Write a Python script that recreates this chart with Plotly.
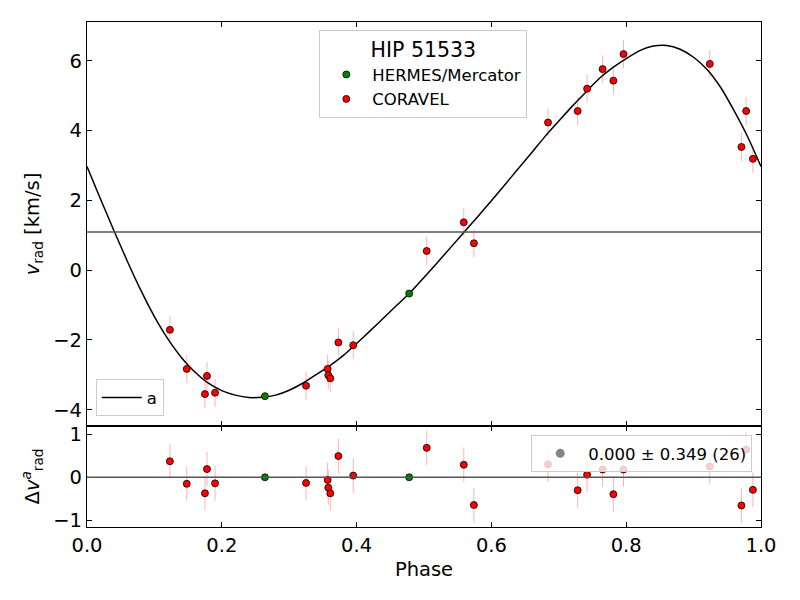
import plotly.graph_objects as go

# ---------------- data ----------------
gamma = 1.09

hermes_phase = [0.264, 0.478]
hermes_rv = [-3.61, -0.67]
hermes_err = [0.02, 0.02]
hermes_res = [0.00, 0.00]

coravel_phase = [0.123, 0.148, 0.175, 0.178, 0.190, 0.325, 0.357, 0.358, 0.361,
                 0.373, 0.395, 0.504, 0.559, 0.574, 0.684, 0.728, 0.742, 0.765,
                 0.781, 0.796, 0.924, 0.971, 0.978, 0.988]
coravel_rv = [-1.71, -2.83, -3.55, -3.03, -3.51, -3.31, -2.83, -3.01, -3.10,
              -2.07, -2.15, 0.55, 1.37, 0.77, 4.23, 4.56, 5.20, 5.76,
              5.43, 6.19, 5.91, 3.53, 4.56, 3.19]
coravel_err = [0.4] * 24
coravel_res = [0.37, -0.15, -0.37, 0.19, -0.14, -0.13, -0.06, -0.24, -0.37,
               0.49, 0.04, 0.68, 0.29, -0.64, 0.30, -0.30, 0.06, 0.18,
               -0.39, 0.18, 0.25, -0.65, 0.64, -0.29]

model_phase = [0.00, 0.02, 0.04, 0.06, 0.08, 0.10, 0.12, 0.14, 0.16, 0.18,
               0.20, 0.22, 0.24, 0.26, 0.28, 0.30, 0.32, 0.34, 0.36, 0.38,
               0.40, 0.42, 0.44, 0.46, 0.48, 0.50, 0.52, 0.54, 0.56, 0.58,
               0.60, 0.62, 0.64, 0.66, 0.68, 0.70, 0.72, 0.74, 0.76, 0.78,
               0.80, 0.82, 0.84, 0.86, 0.88, 0.90, 0.92, 0.94, 0.96, 0.98, 1.00]
model_rv = [2.97, 2.04, 1.13, 0.25, -0.58, -1.33, -1.97, -2.50, -2.92, -3.24,
            -3.45, -3.58, -3.65, -3.64, -3.58, -3.44, -3.24, -2.99, -2.74, -2.45,
            -2.10, -1.74, -1.37, -1.00, -0.63, -0.21, 0.22, 0.66, 1.10, 1.54,
            1.99, 2.45, 2.91, 3.37, 3.84, 4.27, 4.70, 5.10, 5.49, 5.80,
            6.06, 6.29, 6.42, 6.44, 6.33, 6.10, 5.75, 5.24, 4.57, 3.83, 2.97]

legend_title = "HIP 51533"
hermes_label = "HERMES/Mercator"
coravel_label = "CORAVEL"
model_label = "a"
resid_label = "0.000 \u00b1 0.349 (26)"

FONT = "DejaVu Sans"
ERRCOL = "rgba(255,0,0,0.30)"

fig = go.Figure()

# ---- top panel ----
fig.add_trace(go.Scatter(
    x=model_phase, y=model_rv, mode="lines", name=model_label,
    line=dict(color="black", width=1.5, shape="spline", smoothing=0.6),
    xaxis="x2", yaxis="y", legend="legend2"))

for ph, rv, er in [(hermes_phase, hermes_rv, hermes_err),
                   (coravel_phase, coravel_rv, coravel_err)]:
    fig.add_trace(go.Scatter(
        x=ph, y=rv, mode="markers", showlegend=False,
        marker=dict(size=1, opacity=0),
        error_y=dict(type="data", array=er, visible=True, color=ERRCOL,
                     thickness=1, width=0),
        xaxis="x2", yaxis="y", hoverinfo="skip"))

fig.add_trace(go.Scatter(
    x=hermes_phase, y=hermes_rv, mode="markers", name=hermes_label,
    marker=dict(size=7, color="#008000", line=dict(color="black", width=0.8)),
    xaxis="x2", yaxis="y", legend="legend"))
fig.add_trace(go.Scatter(
    x=coravel_phase, y=coravel_rv, mode="markers", name=coravel_label,
    marker=dict(size=7, color="#ff0000", line=dict(color="black", width=0.8)),
    xaxis="x2", yaxis="y", legend="legend"))

# ---- bottom panel ----
for ph, rs, er in [(hermes_phase, hermes_res, hermes_err),
                   (coravel_phase, coravel_res, coravel_err)]:
    fig.add_trace(go.Scatter(
        x=ph, y=rs, mode="markers", showlegend=False,
        marker=dict(size=1, opacity=0),
        error_y=dict(type="data", array=er, visible=True, color=ERRCOL,
                     thickness=1, width=0),
        xaxis="x", yaxis="y2", hoverinfo="skip"))

fig.add_trace(go.Scatter(
    x=hermes_phase, y=hermes_res, mode="markers", showlegend=False,
    marker=dict(size=7, color="#008000", line=dict(color="black", width=0.8)),
    xaxis="x", yaxis="y2"))
fig.add_trace(go.Scatter(
    x=coravel_phase, y=coravel_res, mode="markers", showlegend=False,
    marker=dict(size=7, color="#ff0000", line=dict(color="black", width=0.8)),
    xaxis="x", yaxis="y2"))

# legend-only grey marker for residual statistics
fig.add_trace(go.Scatter(
    x=[None], y=[None], mode="markers", name=resid_label,
    marker=dict(size=9, color="rgba(110,110,110,0.85)"),
    xaxis="x", yaxis="y2", legend="legend3"))

# reference lines
fig.add_shape(type="line", xref="x2 domain", yref="y", x0=0, x1=1,
              y0=gamma, y1=gamma, line=dict(color="#555555", width=1.5))
fig.add_shape(type="line", xref="x domain", yref="y2", x0=0, x1=1,
              y0=0, y1=0, line=dict(color="#555555", width=1.5))

axis_common = dict(showline=True, linecolor="black", linewidth=1.2,
                   mirror="allticks", ticks="inside", ticklen=5, tickwidth=1,
                   tickcolor="black", showgrid=False, zeroline=False,
                   tickfont=dict(family=FONT, size=19.5, color="black"))

legend_common = dict(bgcolor="rgba(255,255,255,0.8)", bordercolor="#cccccc",
                     borderwidth=1, font=dict(family=FONT, size=16.5, color="black"))

fig.update_layout(
    width=800, height=600,
    margin=dict(l=79, r=47, t=14, b=81),
    paper_bgcolor="white", plot_bgcolor="white",
    font=dict(family=FONT, color="black"),
    xaxis=dict(domain=[0, 1], anchor="y2", range=[0, 1],
               tickvals=[0, 0.2, 0.4, 0.6, 0.8, 1.0], tickformat=".1f",
               title=dict(text="Phase", font=dict(family=FONT, size=19.5), standoff=6),
               **axis_common),
    xaxis2=dict(domain=[0, 1], anchor="y", matches="x", range=[0, 1],
                tickvals=[0, 0.2, 0.4, 0.6, 0.8, 1.0], showticklabels=False,
                **axis_common),
    yaxis=dict(domain=[0.2, 1], anchor="x2", range=[-4.465, 7.11],
               tickvals=[-4, -2, 0, 2, 4, 6],
               title=dict(text="<i>v</i><sub>rad</sub> [km/s]",
                          font=dict(family=FONT, size=19.5), standoff=8),
               **axis_common),
    yaxis2=dict(domain=[0, 0.2], anchor="x", range=[-1.148, 1.185],
                tickvals=[-1, 0, 1],
                title=dict(text="\u0394<i>v</i><sup><i>a</i></sup><sub>rad</sub>",
                           font=dict(family=FONT, size=19.5), standoff=8),
                **axis_common),
    legend=dict(x=0.499, y=0.985, xanchor="center", yanchor="top",
                title=dict(text=legend_title, side="top center",
                           font=dict(family=FONT, size=20.5)),
                traceorder="normal", itemwidth=42, **legend_common),
    legend2=dict(x=0.013, y=0.2195, xanchor="left", yanchor="bottom",
                 itemwidth=40, **legend_common),
    legend3=dict(x=0.987, y=0.182, xanchor="right", yanchor="top",
                 itemwidth=46, **legend_common),
)

fig.write_html("out.html")
